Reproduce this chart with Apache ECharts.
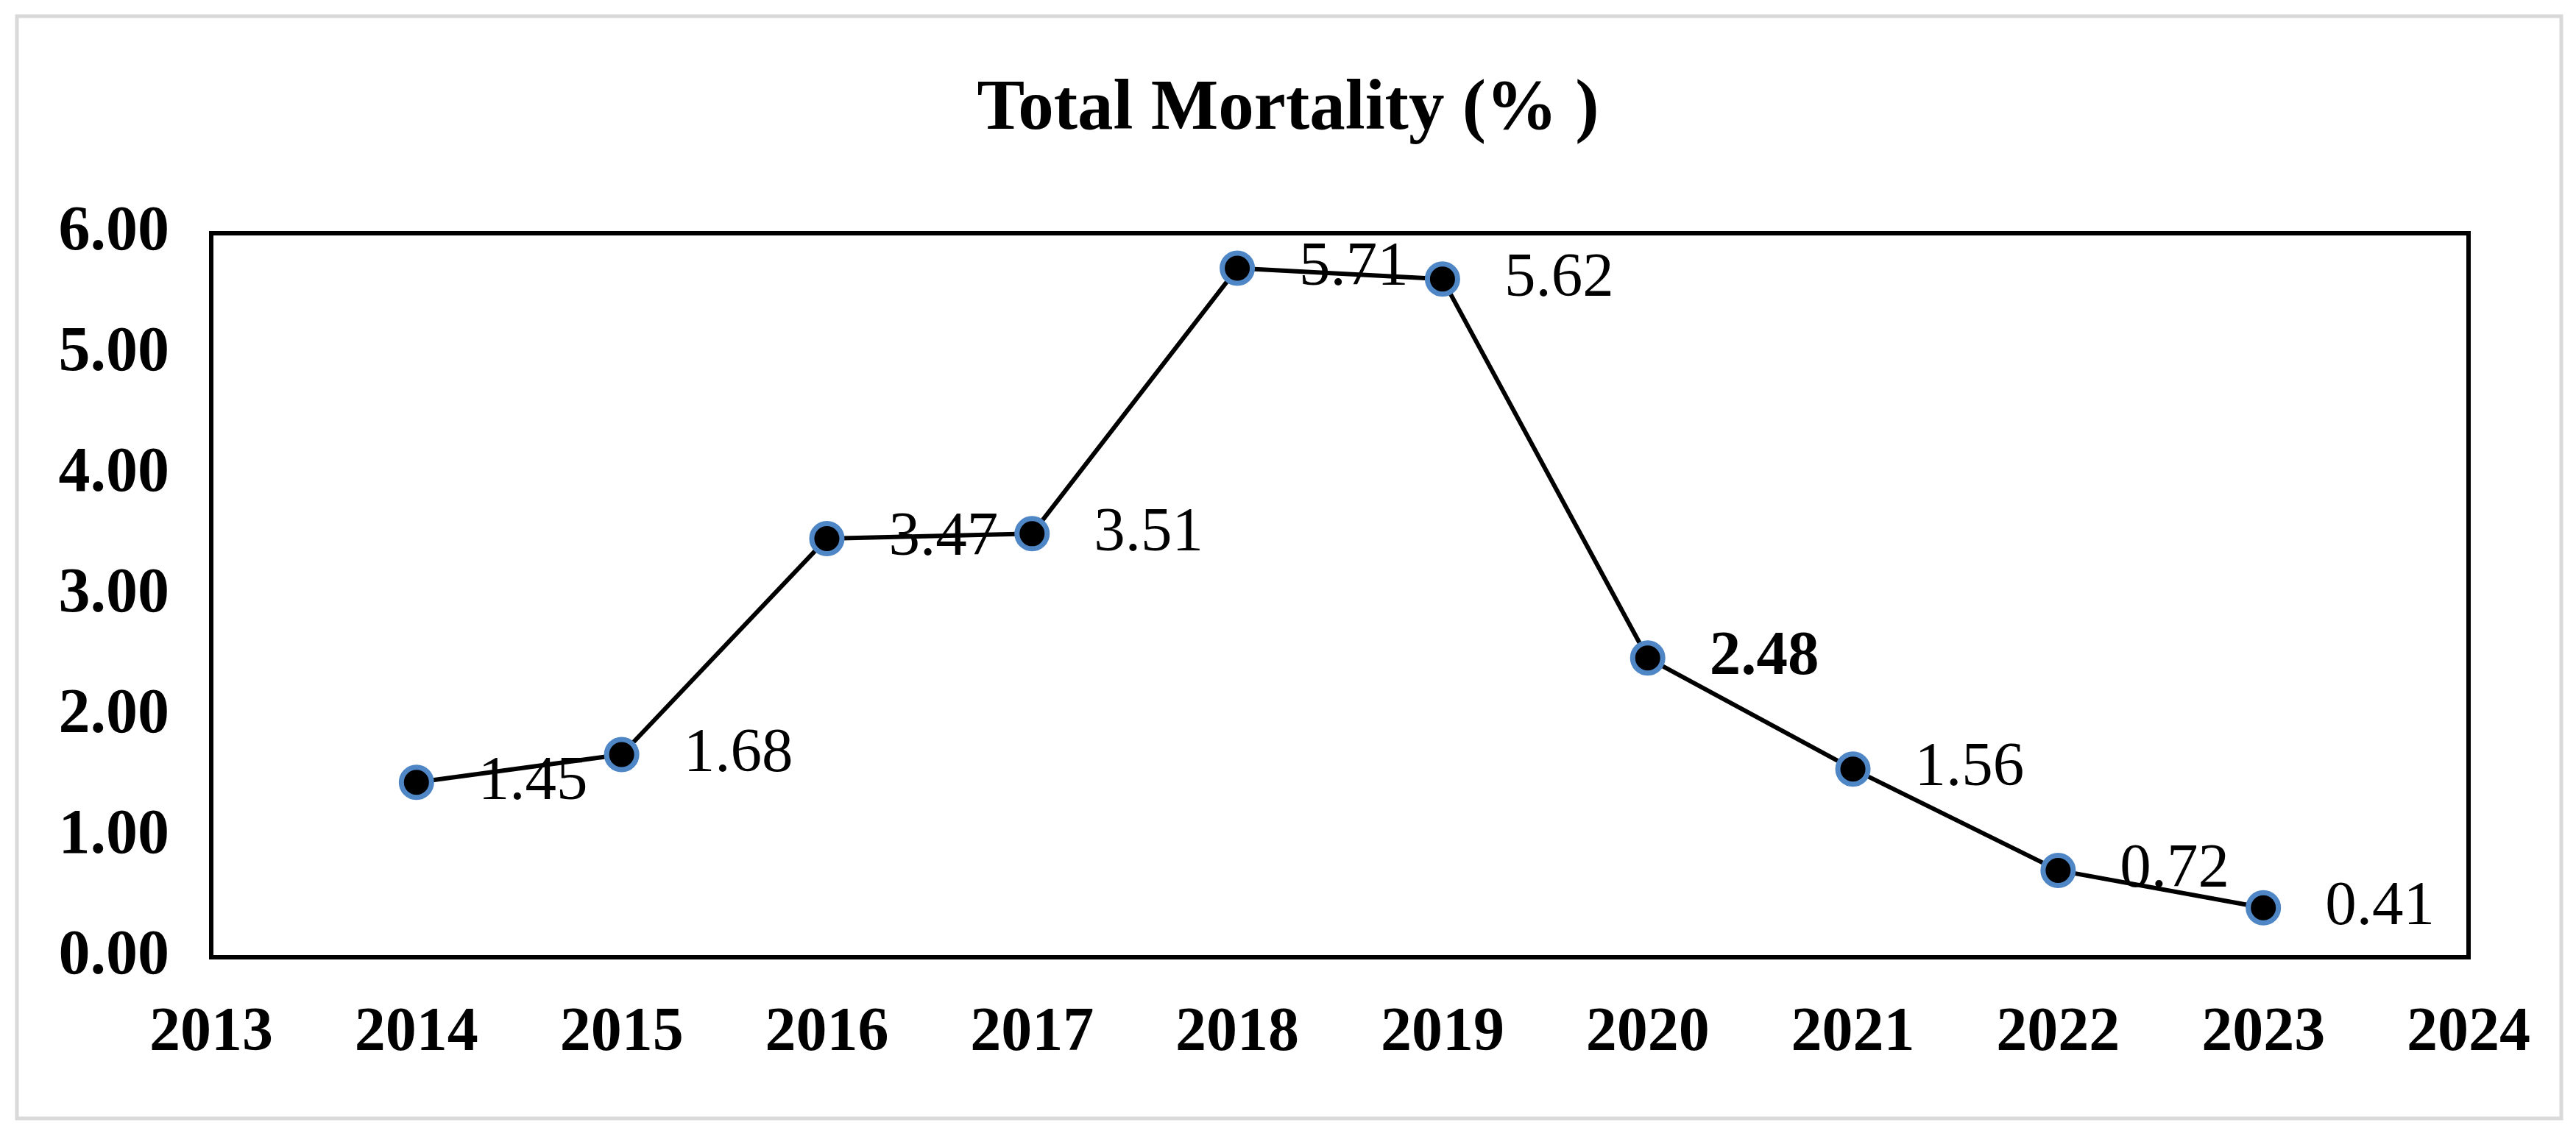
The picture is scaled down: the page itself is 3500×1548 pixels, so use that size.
<!DOCTYPE html>
<html>
<head>
<meta charset="utf-8">
<script src="https://cdn.jsdelivr.net/npm/echarts@6/dist/echarts.min.js"></script>
<style>
html,body{margin:0;padding:0;background:#fff;}
#c{width:3500px;height:1548px;}
</style>
</head>
<body>
<div id="c"></div>
<script>
const titleText = 'Total Mortality (% )';
const years = [2014, 2015, 2016, 2017, 2018, 2019, 2020, 2021, 2022, 2023];
const mortality = [1.45, 1.68, 3.47, 3.51, 5.71, 5.62, 2.48, 1.56, 0.72, 0.41];
const boldLabelYears = [2020];
const xMin = 2013, xMax = 2024, xStep = 1;
const yMin = 0, yMax = 6, yStep = 1;

const serif = '"Liberation Serif", "Times New Roman", serif';
const chart = echarts.init(document.getElementById('c'));

const seriesData = years.map((y, i) => ({
  value: [y, mortality[i]],
  label: boldLabelYears.includes(y) ? { fontWeight: 'bold' } : undefined
}));

chart.setOption({
  animation: false,
  backgroundColor: '#fff',
  title: {
    text: titleText,
    left: 'center',
    top: 96,
    textStyle: { fontFamily: serif, fontSize: 97, fontWeight: 'bold', color: '#000' }
  },
  graphic: [{
    type: 'rect',
    shape: { x: 23, y: 22, width: 3457, height: 1498 },
    style: { fill: 'none', stroke: '#d9d9d9', lineWidth: 5 },
    silent: true
  }],
  grid: {
    left: 287, right: 146, top: 317, bottom: 247,
    show: true, borderColor: '#000', borderWidth: 6, backgroundColor: 'transparent'
  },
  xAxis: {
    type: 'value', min: xMin, max: xMax, interval: xStep,
    axisLine: { show: false }, axisTick: { show: false }, splitLine: { show: false },
    axisLabel: {
      margin: 62, formatter: v => String(v),
      fontFamily: serif, fontSize: 84, fontWeight: 'bold', color: '#000'
    }
  },
  yAxis: {
    type: 'value', min: yMin, max: yMax, interval: yStep,
    axisLine: { show: false }, axisTick: { show: false }, splitLine: { show: false },
    axisLabel: {
      margin: 57, formatter: v => v.toFixed(2),
      fontFamily: serif, fontSize: 86, fontWeight: 'bold', color: '#000'
    }
  },
  series: [{
    type: 'line',
    data: seriesData,
    symbol: 'circle',
    symbolSize: 41,
    itemStyle: { color: '#000', borderColor: '#4F86C6', borderWidth: 7 },
    lineStyle: { color: '#000', width: 6 },
    label: {
      show: true, position: 'right', distance: 60,
      formatter: p => p.value[1].toFixed(2),
      fontFamily: serif, fontSize: 85, color: '#000'
    },
    emphasis: { disabled: true }
  }]
});
</script>
</body>
</html>
